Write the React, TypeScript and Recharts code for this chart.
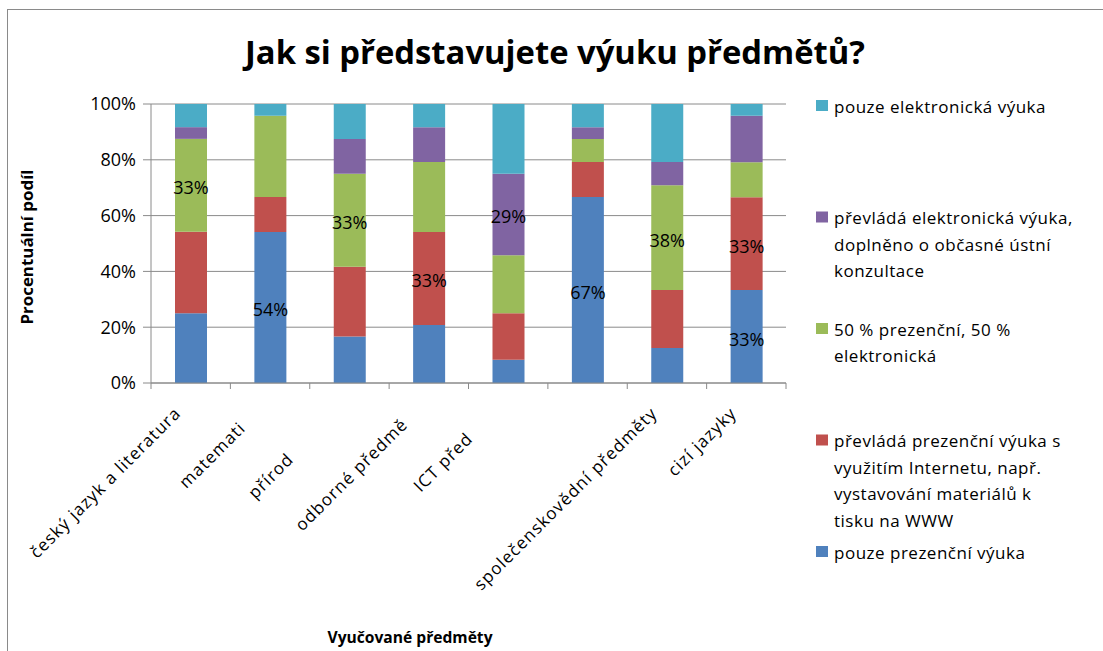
import React from 'react';
import { BarChart, Bar, XAxis, YAxis, CartesianGrid } from 'recharts';

// ---- data ----
const categories = [
  'český jazyk a literatura',
  'matematika',
  'přírodovědné předměty',
  'odborné předměty',
  'ICT předměty',
  '(bez popisku)',
  'společenskovědní předměty',
  'cizí jazyky',
];
const tickLabels = [
  'český jazyk a literatura',
  'matemati',
  'přírod',
  'odborné předmě',
  'ICT před',
  '',
  'společenskovědní předměty',
  'cizí jazyky',
];
// values in % of answers
const pouzePrezencni = [25.0, 54.2, 16.7, 20.8, 8.3, 66.7, 12.5, 33.3];
const prevladaPrezencni = [29.2, 12.5, 25.0, 33.3, 16.7, 12.5, 20.8, 33.3];
const polovina = [33.3, 29.2, 33.3, 25.0, 20.8, 8.3, 37.5, 12.5];
const prevladaElektronicka = [4.2, 0.0, 12.5, 12.5, 29.2, 4.2, 8.3, 16.7];
const pouzeElektronicka = [8.3, 4.2, 12.5, 8.3, 25.0, 8.3, 20.8, 4.2];
const yTicks = [0, 0.2, 0.4, 0.6, 0.8, 1];

const seriesKeys = ['s1', 's2', 's3', 's4', 's5'];
const seriesValues = [pouzePrezencni, prevladaPrezencni, polovina, prevladaElektronicka, pouzeElektronicka];
const seriesColors = ['#4F81BD', '#C0504D', '#9BBB59', '#8064A2', '#4BACC6'];
const seriesNames = [
  'pouze prezenční výuka',
  'převládá prezenční výuka s využitím Internetu, např. vystavování materiálů k tisku na WWW',
  '50 % prezenční, 50 % elektronická',
  'převládá elektronická výuka, doplněno o občasné ústní konzultace',
  'pouze elektronická výuka',
];
// legend (top to bottom), lines as wrapped in the picture
const legendOrder = [4, 3, 2, 1, 0];
const legendLines = [
  ['pouze prezenční výuka'],
  ['převládá prezenční výuka s', 'využitím Internetu, např.', 'vystavování materiálů k', 'tisku na WWW'],
  ['50 % prezenční, 50 %', 'elektronická'],
  ['převládá elektronická výuka,', 'doplněno o občasné ústní', 'konzultace'],
  ['pouze elektronická výuka'],
];

const data = categories.map((name, i) => {
  const row: any = { name };
  seriesKeys.forEach((k, s) => (row[k] = seriesValues[s][i]));
  return row;
});

// ---- layout ----
const W = 1103;
const H = 651;
const PLOT_LEFT = 151;
const PLOT_RIGHT = 786;
const PLOT_TOP = 104;
const PLOT_BOTTOM = 383;
const BAND = (PLOT_RIGHT - PLOT_LEFT) / categories.length;
// distance (down-left along the 45° line) of each tick label's end from its tick
const tickLabelEnd = [17, 38, 82, 33, 53, 17, 17, 17];
const GRAY = '#8a8a8a';
const FONT = '"Open Sans", "DejaVu Sans", sans-serif';

const XTick = (props: any) => {
  const { x, y, index } = props;
  const d = tickLabelEnd[index];
  const ax = x - d * 0.7071 + 3.3;
  const ay = y + (399 - PLOT_BOTTOM) + d * 0.7071 + 3.3;
  const bx = x - BAND / 2;
  return (
    <g>
      <line x1={bx} y1={y} x2={bx} y2={y + 6} stroke={GRAY} />
      {index === categories.length - 1 && (
        <line x1={x + BAND / 2} y1={y} x2={x + BAND / 2} y2={y + 6} stroke={GRAY} />
      )}
      <text
        x={ax}
        y={ay}
        textAnchor="end"
        transform={`rotate(-45, ${ax}, ${ay})`}
        fontFamily={FONT}
        fontSize={17}
        letterSpacing={1.1}
        fill="#000"
      >
        {tickLabels[index]}
      </text>
    </g>
  );
};

const makeLabel = (s: number) => (props: any) => {
  const { x, y, width, height } = props;
  if (x == null || width == null) return null;
  const index = Math.floor((x + width / 2 - PLOT_LEFT) / BAND);
  if (index < 0 || index >= categories.length) return null;
  const v = seriesValues[s][index];
  const max = Math.max(...seriesValues.map((arr) => arr[index]));
  if (v !== max || v <= 0) return null;
  return (
    <text
      x={x + width / 2}
      y={y + height / 2 + 2}
      textAnchor="middle"
      dominantBaseline="central"
      fontFamily={FONT}
      fontSize={18}
      fill="#000"
    >
      {`${Math.round(v)}%`}
    </text>
  );
};

export default function App() {
  return (
    <div
      style={{
        position: 'absolute',
        left: 0,
        top: 0,
        width: W,
        height: H,
        overflow: 'hidden',
        background: '#fff',
      }}
    >
      <div style={{ position: 'absolute', left: 0, top: 0 }}>
        <BarChart
          width={W}
          height={H}
          data={data}
          stackOffset="expand"
          barSize={32}
          margin={{ top: PLOT_TOP, right: W - PLOT_RIGHT, bottom: H - PLOT_BOTTOM - 200, left: 0 }}
        >
          <CartesianGrid vertical={false} stroke={GRAY} strokeWidth={1} />
          <XAxis
            dataKey="name"
            interval={0}
            height={200}
            tickSize={0}
            tickMargin={0}
            tickLine={false}
            axisLine={{ stroke: GRAY }}
            tick={<XTick />}
          />
          <YAxis
            width={PLOT_LEFT}
            domain={[0, 1]}
            ticks={yTicks}
            tickFormatter={(v: number) => `${Math.round(v * 100)}%`}
            tickSize={8}
            tickMargin={7}
            tickLine={{ stroke: GRAY }}
            axisLine={{ stroke: GRAY }}
            tick={{ fontFamily: FONT, fontSize: 18, fill: '#000' }}
          />
          {seriesKeys.map((k, s) => (
            <Bar
              key={k}
              dataKey={k}
              name={seriesNames[s]}
              stackId="a"
              fill={seriesColors[s]}
              isAnimationActive={false}
              label={makeLabel(s)}
            />
          ))}
        </BarChart>
      </div>
      <svg
        width={W}
        height={H}
        style={{ position: 'absolute', left: 0, top: 0, pointerEvents: 'none', zIndex: 3 }}
      >
        <line x1={7.5} y1={9} x2={7.5} y2={H} stroke={GRAY} />
        <line x1={7} y1={9.5} x2={W} y2={9.5} stroke={GRAY} />
        <text
          x={555}
          y={64}
          textAnchor="middle"
          fontFamily={FONT}
          fontWeight="bold"
          fontSize={32}
          textLength={620}
          lengthAdjust="spacingAndGlyphs"
          fill="#000"
        >
          Jak si představujete výuku předmětů?
        </text>
        <text
          x={33}
          y={247}
          textAnchor="middle"
          transform="rotate(-90, 33, 247)"
          fontFamily={FONT}
          fontWeight="bold"
          fontSize={16}
          textLength={155}
          lengthAdjust="spacingAndGlyphs"
          fill="#000"
        >
          Procentuální podíl
        </text>
        <text
          x={410}
          y={643}
          textAnchor="middle"
          fontFamily={FONT}
          fontWeight="bold"
          fontSize={16}
          textLength={165}
          lengthAdjust="spacingAndGlyphs"
          fill="#000"
        >
          Vyučované předměty
        </text>
        {legendOrder.map((s, i) => {
          const top = 100 + i * 111.5;
          return (
            <g key={s}>
              <rect x={816} y={top} width={12} height={11} fill={seriesColors[s]} />
              {legendLines[s].map((ln, j) => (
                <text
                  key={j}
                  x={834}
                  y={top + 12.5 + j * 26.5}
                  fontFamily={FONT}
                  fontSize={17}
                  letterSpacing={0.5}
                  fill="#000"
                >
                  {ln}
                </text>
              ))}
            </g>
          );
        })}
      </svg>
    </div>
  );
}
